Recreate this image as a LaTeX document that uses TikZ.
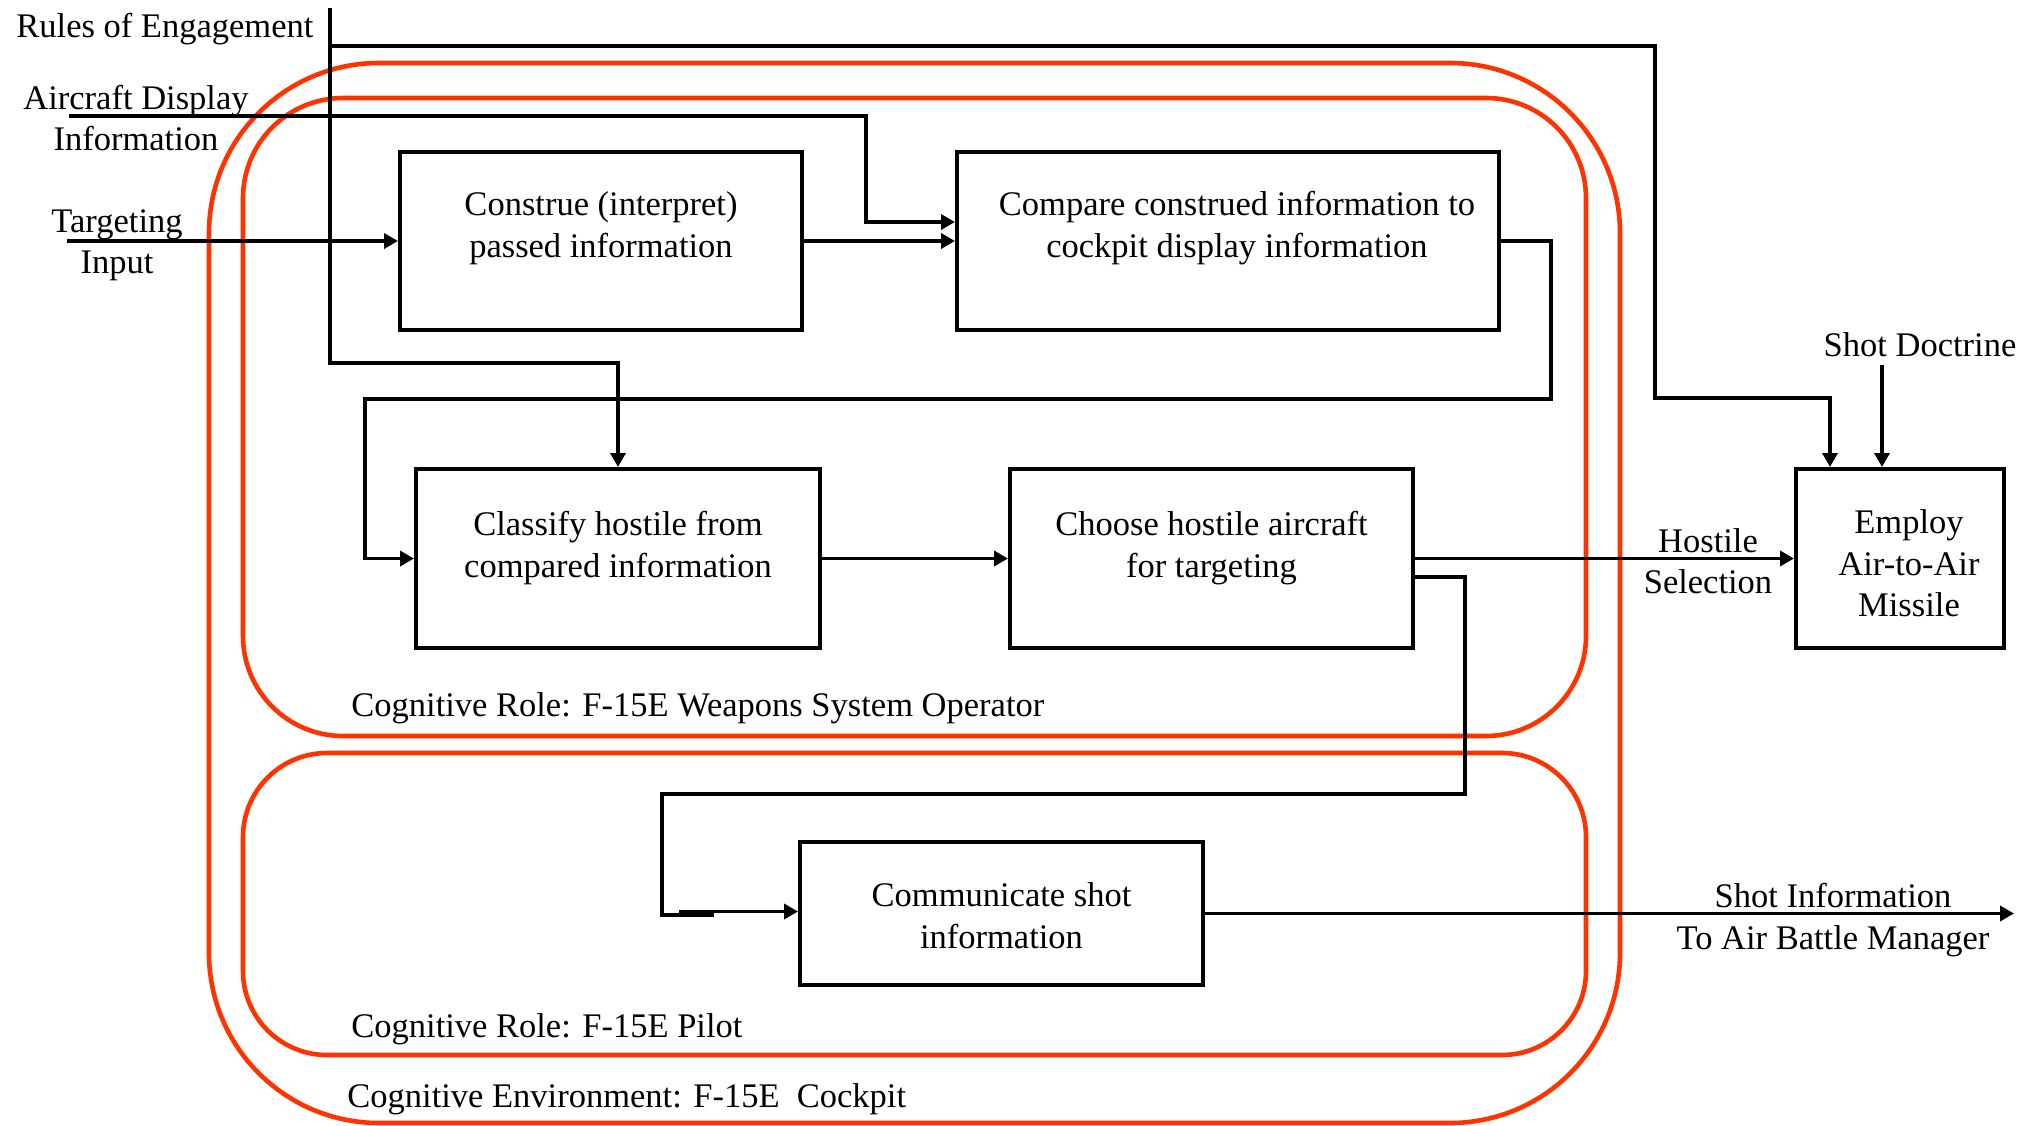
\documentclass[tikz,border=0pt]{standalone}
\usepackage{fontspec}
\setmainfont{Liberation Serif}
\usetikzlibrary{arrows.meta}
\definecolor{rolered}{RGB}{255,51,0}

\begin{document}
\begin{tikzpicture}[x=0.5pt,y=-0.5pt,
  font=\fontsize{17.25pt}{20.75pt}\selectfont,
  container/.style={draw=rolered, line width=2.3pt, inner sep=0pt},
  proc/.style={draw=black, line width=2pt, fill=white, inner sep=0pt},
  txt/.style={inner sep=0pt, align=center},
  lbl/.style={inner sep=0pt, align=center},
  conn/.style={draw=black, line width=1.75pt},
  flow/.style={conn, -{Triangle[length=7pt,width=7.5pt]}}]

\useasboundingbox (0,0) rectangle (2024,1125);

% cognitive environment and roles
\node[container, rounded corners=85pt, minimum width=705.5pt, minimum height=530pt] (env) at (914.5,593) {};
\node[container, rounded corners=50pt, minimum width=671.5pt, minimum height=319pt] (wso) at (914.5,417) {};
\node[container, rounded corners=42pt, minimum width=671.5pt, minimum height=151pt] (pilot) at (914.5,904) {};

\node[lbl, anchor=west] (wso-l) at (351,708) {Cognitive Role: F-15E Weapons System Operator};
\node[lbl, anchor=west] (pilot-l) at (351,1029) {Cognitive Role: F-15E Pilot};
\node[lbl, anchor=west] (env-l) at (347,1099) {Cognitive Environment: F-15E\ \ Cockpit};

% process boxes
\node[proc, minimum width=201pt, minimum height=89pt] (construe) at (601,241) {};
\node[txt, yshift=6.5pt] (construe-t) at (construe) {Construe (interpret)\\passed information};

\node[proc, minimum width=271pt, minimum height=89pt] (compare) at (1228,241) {};
\node[txt, xshift=4.5pt, yshift=6.5pt] (compare-t) at (compare) {Compare construed information to\\cockpit display information};

\node[proc, minimum width=202pt, minimum height=89.5pt] (classify) at (618,558.5) {};
\node[txt, yshift=5.25pt] (classify-t) at (classify) {Classify hostile from\\compared information};

\node[proc, minimum width=201.5pt, minimum height=89.5pt] (choose) at (1211.5,558.5) {};
\node[txt, yshift=5.25pt] (choose-t) at (choose) {Choose hostile aircraft\\for targeting};

\node[proc, minimum width=104pt, minimum height=89.5pt] (employ) at (1900,558.5) {};
\node[txt, xshift=4.5pt, yshift=-2.5pt] (employ-t) at (employ) {Employ\\Air-to-Air\\Missile};

\node[proc, minimum width=201.5pt, minimum height=71.5pt] (communicate) at (1001.5,913.5) {};
\node[txt, yshift=-1pt] (communicate-t) at (communicate) {Communicate shot\\information};

% inputs, controls and outputs
\node[lbl, anchor=west] (roe) at (16,29) {Rules of Engagement};
\node[lbl] (acd) at (136,118) {Aircraft Display\\Information};
\node[lbl] (tgt) at (117,245) {Targeting\\Input};
\node[lbl] (doctrine) at (1920,345) {Shot Doctrine};
\node[lbl] (hostile) at (1708,561) {Hostile\\Selection};
\node[lbl] (shotinfo) at (1833,920) {Shot Information\\To Air Battle Manager};

\coordinate (roe-top) at (330,8);
\coordinate (roe-branch) at (330,46);
\coordinate (acd-start) at (69,116);
\coordinate (tgt-start) at (67,241);
\coordinate (doctrine-start) at (1882,365);
\coordinate (out-end) at (2014,913.5);
\coordinate (relay-end) at (714,915);
\coordinate (relay-start) at (679,911.5);

% connectors
\draw[flow] (roe-top) -- (330,363) -| (classify.north);
\draw[flow] (roe-branch) -| (1655,398) -| ([xshift=-35pt]employ.north);
\draw[flow] (acd-start) -| (866,222) -- ([yshift=9.5pt]compare.west);
\draw[flow] (tgt-start) -- (construe.west);
\draw[flow] (construe.east) -- (compare.west);
\draw[flow] (compare.east) -- (1551,241) |- (365,399) |- (classify.west);
\draw[flow] (classify.east) -- (choose.west);
\draw[flow] (choose.east) -- (employ.west);
\draw[conn] ([yshift=-9.25pt]choose.east) -- (1465,577) |- (662,794) |- (relay-end);
\draw[flow] (relay-start) -- ([yshift=1pt]communicate.west);
\draw[flow] (communicate.east) -- (out-end);
\draw[flow] (doctrine-start) -- ([xshift=-9pt]employ.north);

\end{tikzpicture}
\end{document}
